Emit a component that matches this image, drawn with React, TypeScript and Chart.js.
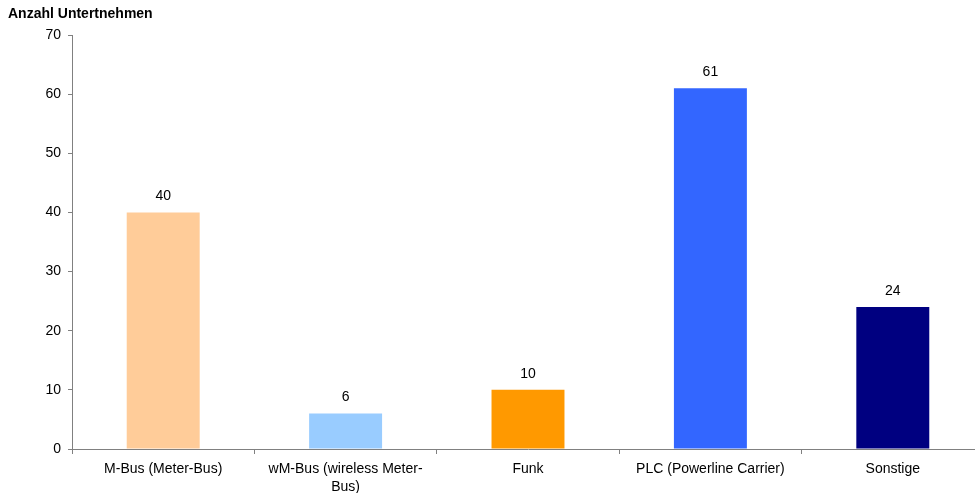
import React, { useEffect, useRef } from "react";
import { Chart, registerables } from "chart.js";

Chart.register(...registerables);

const categories: (string | string[])[] = [
  "M-Bus (Meter-Bus)",
  ["wM-Bus (wireless Meter-", "Bus)"],
  "Funk",
  "PLC (Powerline Carrier)",
  "Sonstige",
];
const values: number[] = [40, 6, 10, 61, 24];
const barColors: string[] = ["#FFCC99", "#99CCFF", "#FF9900", "#3366FF", "#000080"];
const yTitle = "Anzahl Untertnehmen";
const yMin = 0;
const yMax = 70;
const yStep = 10;

const FONT = "'Liberation Sans', Arial, sans-serif";
const FS = 14;

const valueLabels = {
  id: "valueLabels",
  afterDatasetsDraw(chart: any) {
    const ctx = chart.ctx;
    const meta = chart.getDatasetMeta(0);
    ctx.save();
    ctx.font = `${FS}px ${FONT}`;
    ctx.fillStyle = "#000";
    ctx.textAlign = "center";
    ctx.textBaseline = "middle";
    meta.data.forEach((el: any, i: number) => {
      ctx.fillText(String(values[i]), el.x, el.y - 16);
    });
    ctx.restore();
  },
};

export default function App() {
  const ref = useRef<HTMLCanvasElement | null>(null);
  useEffect(() => {
    if (!ref.current) return;
    const chart = new Chart(ref.current, {
      type: "bar",
      data: {
        labels: categories,
        datasets: [
          {
            data: values,
            backgroundColor: barColors,
            borderWidth: 0,
            barPercentage: 0.4,
            categoryPercentage: 1,
          },
        ],
      },
      options: {
        responsive: false,
        animation: false,
        devicePixelRatio: 1,
        layout: { padding: { top: 35, right: 1, left: 0, bottom: 0 } },
        plugins: {
          legend: { display: false },
          tooltip: { enabled: false },
          title: { display: false },
        },
        scales: {
          x: {
            offset: true,
            grid: {
              display: true,
              drawOnChartArea: false,
              drawTicks: true,
              tickLength: 5,
              color: "#808080",
              offset: true,
            },
            border: { display: true, color: "#808080", width: 1 },
            ticks: {
              color: "#000",
              font: { family: FONT, size: FS, lineHeight: 1.3 },
              padding: 6,
              maxRotation: 0,
              autoSkip: false,
            },
            afterFit(scale: any) {
              scale.height = 44;
            },
          },
          y: {
            min: yMin,
            max: yMax,
            grid: {
              display: true,
              drawOnChartArea: false,
              drawTicks: true,
              tickLength: 4,
              color: "#808080",
            },
            border: { display: true, color: "#808080", width: 1 },
            ticks: {
              stepSize: yStep,
              color: "#000",
              font: { family: FONT, size: FS },
              padding: 7,
            },
            afterFit(scale: any) {
              scale.width = 72;
            },
          },
        },
      },
      plugins: [valueLabels],
    });
    return () => chart.destroy();
  }, []);

  return (
    <div
      style={{
        position: "fixed",
        left: 0,
        top: 0,
        width: 975,
        height: 493,
        overflow: "hidden",
        background: "#fff",
      }}
    >
      <div
        style={{
          position: "absolute",
          left: 8,
          top: 5,
          font: `bold 14px ${FONT}`,
          color: "#000",
          whiteSpace: "nowrap",
        }}
      >
        {yTitle}
      </div>
      <canvas ref={ref} width={985} height={493} style={{ display: "block" }} />
    </div>
  );
}
